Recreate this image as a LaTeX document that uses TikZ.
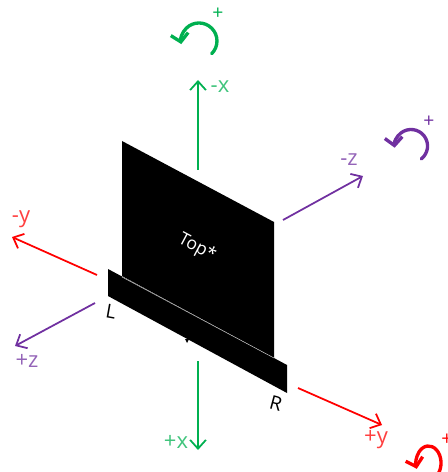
\documentclass[tikz,border=0pt]{standalone}
\usepackage{fontspec}
\setmainfont{Open Sans}
\usetikzlibrary{arrows.meta}
\definecolor{axisgreen}{RGB}{0,176,80}
\definecolor{axispurple}{RGB}{112,48,160}
\definecolor{axisred}{RGB}{255,0,0}
\tikzset{
  axisline/.style={line width=1pt,-{Straight Barb[length=5pt,width=9pt,line width=1pt]}},
  turnline/.style={line width=1.9pt,line cap=round,-{Straight Barb[length=4.5pt,width=10pt,line width=1.9pt]}},
  axislabel/.style={font=\fontsize{12.5}{14}\selectfont,inner sep=0pt},
  signlabel/.style={font=\fontsize{11}{13}\selectfont,inner sep=0pt},
  sidelabel/.style={font=\fontsize{11}{13}\selectfont,inner sep=0pt,text=black}
}

\begin{document}
\begin{tikzpicture}[x=0.02cm,y=-0.02cm]
\useasboundingbox (0,0) rectangle (448,472);
\clip (0,0) rectangle (448,472);

% ============ panel and front bar ============
\fill[black] (122,141) -- (274,222) -- (274,358) -- (122,276) -- cycle;
\fill[black] (108,269) -- (287,365) -- (287,393) -- (108,296) -- cycle;
\draw[white!75!black,line width=0.3pt] (122,277) -- (274,358);
\fill[black] (185,339) -- (189,339) -- (187,343) -- cycle;
\node[rotate=-28,text=white,font=\fontsize{10}{12}\selectfont,inner sep=0pt] (toplabel) at (197,248) {Top*};
\node[sidelabel,rotate=-10] (leftlabel) at (111,312) {L};
\node[sidelabel,rotate=-15] (rightlabel) at (276,403) {R};

% ============ x axis ============
\coordinate (xminusa) at (198,170);
\coordinate (xminusb) at (198,80);
\coordinate (xplusa) at (198,361);
\coordinate (xplusb) at (198,450);
\draw[axisline,axisgreen] (xminusa) -- (xminusb);
\draw[axisline,axisgreen] (xplusa) -- (xplusb);
\node[axislabel,text=axisgreen!75] (xminus) at (220,87) {-x};
\node[axislabel,text=axisgreen!75] (xplus) at (176,442) {+x};
\draw[turnline,axisgreen] (211.7,53.7) arc[start angle=45,end angle=-190,radius=18];
\node[signlabel,text=axisgreen] (xsign) at (218,14) {+};

% ============ z axis ============
\coordinate (zminusa) at (283,220);
\coordinate (zminusb) at (363,176);
\coordinate (zplusa) at (95,303);
\coordinate (zplusb) at (15,346);
\draw[axisline,axispurple] (zminusa) -- (zminusb);
\draw[axisline,axispurple] (zplusa) -- (zplusb);
\node[axislabel,text=axispurple!75] (zminus) at (349,160) {-z};
\node[axislabel,text=axispurple!75] (zplus) at (27,361) {+z};
\draw[turnline,axispurple] (421.2,159) arc[start angle=52,end angle=-186,radius=16.5];
\node[signlabel,text=axispurple] (zsign) at (429,122) {+};

% ============ y axis ============
\coordinate (yminusa) at (97,275);
\coordinate (yminusb) at (12,237);
\coordinate (yplusa) at (298,388);
\coordinate (yplusb) at (382,425);
\draw[axisline,axisred] (yminusa) -- (yminusb);
\draw[axisline,axisred] (yplusa) -- (yplusb);
\node[axislabel,text=axisred!75] (yminus) at (21,219) {-y};
\node[axislabel,text=axisred!75] (yplus) at (376,440) {+y};
\draw[turnline,axisred] (438.1,473.9) arc[start angle=40,end angle=-200,x radius=12.5,y radius=17];
\node[signlabel,text=axisred] (ysign) at (447,440) {+};

\end{tikzpicture}
\end{document}
